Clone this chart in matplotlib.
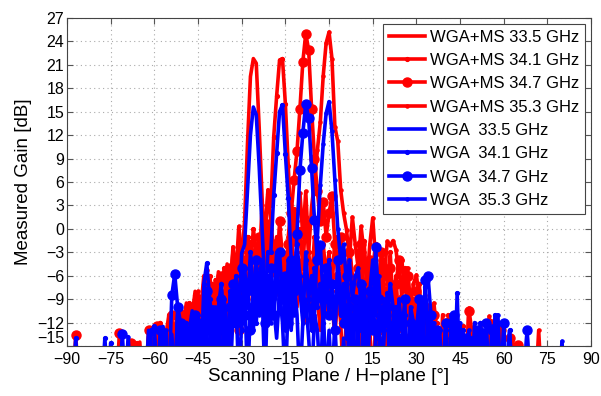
import numpy as np
import matplotlib
matplotlib.use("Agg")
import matplotlib.pyplot as plt

plt.rcParams['font.family'] = ['Liberation Sans', 'DejaVu Sans']

F = -20.0  # below the plotted floor (clipped)
start_angle = -90  # degrees, 1-degree steps

# WGA+MS series (red)
wgams_335 = [
    F, F, F, F, F, F, F, F, F, F,
    F, F, F, F, F, F, F, F, F, F,
    F, F, F, F, F, -14.5, F, F, -13.8, F,
    -14, F, -12.8, -14.5, F, -11.5, F, -13, -10.5, F,
    -12, -9.5, F, -11, -8, -13, -10, -6, -9, -12,
    -7, -10, -5.5, -8, -11, -4.5, -7, -3, -6, -2,
    -4, 1, 11, 19.5, 21.8, 21.2, 13, 4, -3, 1,
    -2, -6, -1, -4, -9, -3, -7, -1, -5, -10,
    -4, -8, -12, -6, -10, -3, -9, -13, -7, -11,
    -5, -9, -14, -8, -12, F, -10, -7, -13, F,
    -11, -14, F, -9, -13, F, -12, F, -14, F,
    -12, F, -13, F, F, -14, F, F, -13, F,
    F, F, -14.5, F, F, F, F, F, F, F,
    F, F, F, F, F, F, F, F, F, F,
    F, F, F, F, F, F, F, F, F, F,
    F, F, F, F, F, F, F, F, F, F,
    F, F, F, F, F, F, F, F, F, F,
    F, F, F, F, F, F, F, F, F, F,
    F]
wgams_341 = [
    F, F, F, F, F, F, F, F, F, F,
    F, F, F, F, F, F, F, F, F, F,
    F, F, F, F, -14.6, F, F, F, F, -13.5,
    F, -14, -12, F, -13.5, -11, F, -12.5, F, -10.5,
    -13, F, -9.5, -12, -8.5, -11, -14, -7, -10, -6,
    -9, -12, -6.5, -8, -5, -10, -7, -4, -9, -5.5,
    -3, -7, -1, -5, 0, -3, -6, 2, -1, 4.5,
    3, 11.8, 17, 21.6, 21.8, 16, 8, -1, 2.5, -3,
    0, -5, 1.5, -3, -7, -1, -4, -9, -2, -6,
    -3, -8, -1, -5, -10, -3, -7, -2, -6, -11,
    -4, -9, -1.5, -7, -12, -5, -2, -8, -11, -4,
    -7, -3, -10, -6, -13, -8, -5, -11, -14, -9,
    -12, -7, -13, F, -10, -14, F, -12, F, -13,
    F, -11, F, F, -14, F, -12.5, F, F, F,
    -13, F, F, F, -14, F, F, -11.5, F, F,
    F, F, F, F, F, F, F, F, F, F,
    F, F, F, F, F, F, F, F, F, F,
    F, F, F, F, F, F, F, F, F, F,
    F]
wgams_347 = [
    F, F, F, -13.6, F, F, F, F, F, F,
    F, F, F, F, F, F, F, F, -13.3, F,
    F, F, -14.6, F, F, F, F, F, -13, F,
    F, -12.5, F, -14, F, F, -11, F, -13.5, F,
    -12, F, -10, -14, F, -9, -12, F, -7.5, -10,
    -13, -8, -11, -6, F, -9, -5, -11, -7, -13,
    -4, -9, -2, -6, -10, -3, -1, -7, -4, 0,
    -5, -2, -8, 1, -4, -9, -2, 2, 6.3, 10,
    15.4, 21.4, 25.0, 22.9, 15.4, 9, 4.8, 1, 3.5, -1,
    2, 4.2, -2, -6, -1, -5, -9, -3, -7, -11,
    -5, -2, -8, -12, -4, -9, -6, -13, -3, -8,
    -10, -5, -12, -7, -4, -9, -14, -6, -11, F,
    -8, -13, F, -10, F, -13, -11, F, F, -14,
    -12, F, F, -14, F, -13, F, F, -10.5, F,
    F, -14, F, F, F, -12, F, F, F, -13,
    F, F, -14, F, F, -14.9, F, F, F, F,
    F, F, F, F, F, F, F, F, F, F,
    F, F, F, F, F, F, F, F, F, F,
    F]
wgams_353 = [
    F, F, F, F, F, F, F, F, F, F,
    F, F, F, F, F, F, F, F, F, F,
    F, F, F, F, F, F, F, F, F, F,
    F, F, F, -13.5, F, F, -12, F, F, -11,
    F, -13, -10, F, -12, -8, F, -11, -5.3, -9,
    -12, -6.5, -9, -7.8, -12, -4.8, -8, -2.3, -6, 0.3,
    -3, -7, -1, -5, -9, -2, -6, 3, -1, 5,
    1, -3, -7, 0, -4, -8, -1, 3, -2, 1,
    4.6, -1, 4.8, -3, 2.8, 6, 10.1, 13.7, 19.6, 23.8,
    25.2, 21.8, 13.1, 11.2, 5, 2, -0.1, -4, 1.5, -2,
    -5, 0.3, -3, -7, -2, 1.4, -4, -8, -3, -6,
    -1.6, -2.1, -1.5, -2.7, -6, -4, -8, -5, -10, -7,
    -5.9, -9, -12, -8.5, -11, -14, -9.5, -13, F, -11,
    F, -12, F, -14, F, -13, F, F, -10.2, -13,
    F, F, -12.5, F, F, -11.2, F, F, F, -12.7,
    F, F, F, -14, F, -14.9, F, F, F, F,
    F, F, -13, F, F, F, F, F, F, F,
    F, F, F, F, F, F, F, F, F, F,
    F]

# WGA series (blue)
wga_335 = [
    F, F, F, F, F, F, F, F, F, F,
    F, F, F, F, F, F, F, F, F, F,
    F, F, F, F, F, F, F, F, -13, F,
    -14, F, F, -12.5, F, F, -13.5, F, -11, F,
    -12, F, -13, -10.5, F, -12, F, -9, -13, -11,
    F, -10, -13, -8, -12, F, -9, -11, -7, -12,
    -3.1, -2, 5, 12, 15.6, 14.6, 8, 0, -8, -12,
    -6, -10, -14, -8, -12, F, -9, -13, -7, -11,
    F, -12, -9, -14, F, -11, -13, F, -10, F,
    -13, F, -12, F, F, -14, F, -11, F, F,
    -13, F, F, -12, F, F, -14, F, F, F,
    F, -13, F, F, F, F, -14, F, F, F,
    F, F, F, F, F, F, F, F, F, F,
    F, F, F, F, F, F, F, F, F, F,
    F, F, F, F, F, F, F, F, F, F,
    F, F, F, F, F, F, F, F, F, F,
    F, F, F, F, F, F, F, F, F, F,
    F, F, F, F, F, F, F, F, F, F,
    F]
wga_341 = [
    F, F, F, -14, F, F, F, F, F, F,
    F, F, F, -14, F, -14.6, F, F, F, F,
    F, F, F, F, F, F, F, F, F, -13,
    -12.5, F, F, -14, F, F, F, F, -10, F,
    F, -12, F, -11, F, -13, F, -7, -4.4, -9,
    -12, F, -10, -7, -13, F, -8, -11, -6, -9,
    -13, -5, -10, -3, -8, -12, -6, -4, -10, -3,
    -3, 4.3, 9.7, 15, 15.9, 9.6, 3.9, -4, -8, -2,
    -6, -11, -4, -9, -13, -5, -10, -7, -12, -8,
    -4, -9, -13, -6, -11, -7, -14, -9, -12, F,
    -10, -13, -8, F, -12, -9, -14, -11, F, -13,
    -8.2, -12, F, -10, -14, F, -11, F, -13, F,
    -12, F, F, -7.4, -12, F, F, -14, F, F,
    -13, F, -12, F, -8.2, F, -13, F, F, -14,
    F, F, -12, F, F, F, F, -11, F, F,
    F, F, -13, F, F, F, F, F, F, F,
    F, F, F, F, F, F, F, F, F, F,
    F, F, F, F, F, F, F, F, F, F,
    F]
wga_347 = [
    F, F, F, F, F, F, F, F, F, F,
    F, F, F, F, F, F, F, F, F, -13.5,
    F, F, F, F, F, F, F, F, F, F,
    F, F, -13, F, F, F, -8.5, -5.8, -10, -12,
    F, -13, F, F, -11, F, -12, F, -8, -13,
    F, -11, F, -9, -13, F, -10, -7, -12, -9,
    -5, -11, -7, -13, -8, -4, -10, -6, -12, -9,
    -5, -11, -7, -3, -9, -6, -12, -4, -8, -0.6,
    7.5, 12.3, 16, 14.2, 7.8, 1.1, -4, -2.1, -9, -5,
    -11, -7, -13, -4, -8, -12, -6, -10, F, -9,
    -12, -7, F, -11, -8, -13, -2.3, -9, F, -12,
    -10, F, -13, -11, F, -14, -9, F, -12, F,
    -13, -9, F, -6.5, -6.1, -11, F, -13, F, F,
    -12, F, F, -11, F, F, F, -14, F, F,
    F, -13, F, F, -12, F, -13, F, F, F,
    -12, F, F, F, F, F, F, F, -13, F,
    F, F, F, F, F, F, F, F, F, F,
    F, F, F, F, F, F, F, F, F, F,
    F]
wga_353 = [
    F, F, F, F, F, F, F, F, F, F,
    F, F, F, F, F, F, F, F, F, F,
    F, -13.8, F, F, F, F, F, F, F, F,
    F, F, F, F, -13, F, F, F, F, -12,
    F, F, -14, F, F, -11, F, F, -13, F,
    -10, F, -12, F, -9, -13, F, -11, -8, F,
    -12, -7, F, -10, -13, -5, -11, -8, F, -6,
    -12, -9, -3, -10, -6, -13, -4, -9, -11, -5,
    -8, -12, -3, -9, -6, -11, -1, 5.6, 10.9, 14.8,
    16.3, 12.5, 6.3, 0, -4, -2, -7, -4, -9, -6.1,
    -5, -10, -7, -12, -8, -4, -11, -6, -13, -9,
    -12, -7, -10, F, -9, -13, -11, F, -10, -12,
    F, -13, -9, F, -11, F, -12, F, -13, F,
    -14, F, -11, F, F, -12, F, F, -13, F,
    -12, F, F, -13, F, F, -12.5, F, -11, F,
    F, F, -13, F, F, F, F, F, -13, F,
    F, F, F, F, F, F, F, F, F, F,
    -14.4, F, F, F, F, F, F, F, F, F,
    F]

labels_red = ["WGA+MS 33.5 GHz", "WGA+MS 34.1 GHz", "WGA+MS 34.7 GHz", "WGA+MS 35.3 GHz"]
labels_blue = ["WGA  33.5 GHz", "WGA  34.1 GHz", "WGA  34.7 GHz", "WGA  35.3 GHz"]
x_ticks = [-90, -75, -60, -45, -30, -15, 0, 15, 30, 45, 60, 75, 90]
y_ticks = [-15, -12, -9, -6, -3, 0, 3, 6, 9, 12, 15, 18, 21, 24, 27]

fig = plt.figure(figsize=(6.01, 3.96), dpi=100)
ax = fig.add_axes([0.1115, 0.1263, 0.872, 0.8283])

styles = [dict(marker=None), dict(marker='.', markersize=5.5),
          dict(marker='o', markersize=6.5), dict(marker='.', markersize=4.5)]
red_series = [wgams_335, wgams_341, wgams_347, wgams_353]
blue_series = [wga_335, wga_341, wga_347, wga_353]

for vals, lab, st in zip(red_series, labels_red, styles):
    x = np.arange(start_angle, start_angle + len(vals))
    ax.plot(x, vals, color='#ff0000', lw=2.6, label=lab, **st)
for vals, lab, st in zip(blue_series, labels_blue, styles):
    x = np.arange(start_angle, start_angle + len(vals))
    ax.plot(x, vals, color='#0000ff', lw=2.6, label=lab, **st)

ax.set_xlim(-90, 90)
ax.set_ylim(-15, 27)
ax.set_xticks(x_ticks)
ax.set_yticks(y_ticks)
ax.tick_params(direction='in', top=True, right=True, labelsize=11.5, length=4,
               color='#555555')
ax.tick_params(axis='x', pad=4)
ax.tick_params(axis='y', pad=2)
ax.grid(True, linestyle=(0, (1, 3)), color='#aaaaaa', linewidth=0.8)
for s in ax.spines.values():
    s.set_color('#444444')
ax.set_xlabel("Scanning Plane / H\u2212plane [\u00b0]", fontsize=13.5, labelpad=1)
ax.set_ylabel("Measured Gain [dB]", fontsize=13.5, labelpad=4)
# keep the bottom y label just clear of the first x label
ax.get_yticklabels()[0].set_va('bottom')

leg = ax.legend(loc='upper right', fontsize=12, handlelength=2.2, labelspacing=0.5,
                borderpad=0.35, handletextpad=0.3, fancybox=False, framealpha=1,
                edgecolor='#444444', borderaxespad=0.35)
leg.get_frame().set_linewidth(0.8)

fig.savefig("out.png", dpi=100)
